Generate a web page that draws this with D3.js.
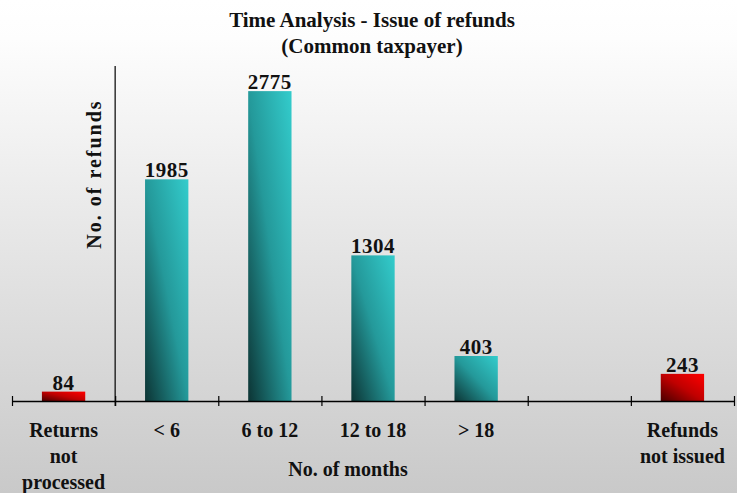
<!DOCTYPE html>
<html>
<head>
<meta charset="utf-8">
<script src="https://cdn.jsdelivr.net/npm/d3@7"></script>
<style>
  html, body { margin: 0; padding: 0; background: #fff; }
  svg { display: block; }
  text { font-family: "Liberation Serif", "Times New Roman", serif; font-weight: bold; fill: #111; }
</style>
</head>
<body>
<svg id="chart" width="737" height="493"></svg>
<script>
// Refund timing categories (multi-line labels split on "\n")
const categories = ["Returns\nnot\nprocessed", "< 6", "6 to 12", "12 to 18", "> 18", "", "Refunds\nnot issued"];
// Number of refunds per category (null = no bar)
const values = [84, 1985, 2775, 1304, 403, null, 243];
// Which bars are highlighted as outliers (red) vs. monthly buckets (teal)
const kinds = ["red", "teal", "teal", "teal", "teal", null, "red"];
const titleLines = ["Time Analysis - Issue of refunds", "(Common taxpayer)"];
const xTitle = "No. of months";
const yTitle = "No. of refunds";

const W = 737, H = 493;
const svg = d3.select("#chart");
const defs = svg.append("defs");

// Background: white fading to light grey at the bottom
const bg = defs.append("linearGradient").attr("id", "bg").attr("x1", 0).attr("y1", 0).attr("x2", 0).attr("y2", 1);
bg.append("stop").attr("offset", "0%").attr("stop-color", "#ffffff");
bg.append("stop").attr("offset", "8%").attr("stop-color", "#fdfdfd");
bg.append("stop").attr("offset", "100%").attr("stop-color", "#c9c9c9");
svg.append("rect").attr("width", W).attr("height", H).attr("fill", "url(#bg)");

// Diagonal bar fills: dark at bottom-left, bright at top-right
function diag(id, c0, c1, c2) {
  const g = defs.append("linearGradient").attr("id", id)
    .attr("x1", 0).attr("y1", 1).attr("x2", 1).attr("y2", 0);
  g.append("stop").attr("offset", "0%").attr("stop-color", c0);
  g.append("stop").attr("offset", "50%").attr("stop-color", c1);
  g.append("stop").attr("offset", "100%").attr("stop-color", c2);
}
diag("teal", "#0c3434", "#24999a", "#33cccc");
diag("red", "#4a0000", "#c00000", "#ff0000");

const plotLeft = 12, plotRight = 734, plotBase = 401, plotTop = 66;
const idx = d3.range(categories.length);
const x = d3.scaleBand().domain(idx).range([plotLeft, plotRight]).padding(0);
const y = d3.scaleLinear().domain([0, 3000]).range([plotBase, plotTop]);
const bw = x.bandwidth() * 0.42;

// Bars
const bars = idx.filter(i => values[i] != null);
svg.append("g").selectAll("rect").data(bars).join("rect")
  .attr("x", i => x(i) + x.bandwidth() / 2 - bw / 2)
  .attr("y", i => y(values[i]))
  .attr("width", bw)
  .attr("height", i => y(0) - y(values[i]))
  .attr("fill", i => `url(#${kinds[i]})`);

// Value labels
svg.append("g").selectAll("text").data(bars).join("text")
  .attr("x", i => x(i) + x.bandwidth() / 2)
  .attr("y", i => y(values[i]) - 2)
  .attr("text-anchor", "middle")
  .style("font-size", "21px")
  .style("letter-spacing", "0.5px")
  .text(i => values[i]);

// Category axis with ticks crossing the baseline at band edges
const edges = d3.scaleLinear().domain([0, categories.length]).range([plotLeft, plotRight]);
const axis = svg.append("g").attr("transform", `translate(0,${plotBase})`)
  .call(d3.axisBottom(edges).tickValues(d3.range(categories.length + 1)).tickSize(5).tickSizeOuter(0).tickFormat(""));
axis.select(".domain").attr("stroke", "#000").attr("stroke-width", 1.5);
axis.selectAll(".tick line").attr("y1", -5).attr("stroke", "#000").attr("stroke-width", 1.2);

// Vertical value axis line between the first and second category
svg.append("line")
  .attr("x1", edges(1)).attr("x2", edges(1))
  .attr("y1", plotTop).attr("y2", plotBase + 5)
  .attr("stroke", "#000").attr("stroke-width", 1.2);

// Category labels
const lab = svg.append("g").selectAll("text").data(idx).join("text")
  .attr("text-anchor", "middle")
  .style("font-size", "20px");
lab.each(function (i) {
  const lines = categories[i].split("\n");
  d3.select(this).selectAll("tspan").data(lines).join("tspan")
    .attr("x", x(i) + x.bandwidth() / 2)
    .attr("y", (d, k) => 437 + k * 26)
    .text(d => d);
});

// Axis titles
svg.append("text").attr("x", 348).attr("y", 476).attr("text-anchor", "middle")
  .style("font-size", "20px").text(xTitle);
svg.append("text").attr("transform", "translate(101,174) rotate(-90)").attr("text-anchor", "middle")
  .style("font-size", "20px").style("letter-spacing", "2px").text(yTitle);

// Chart title
svg.append("g").selectAll("text").data(titleLines).join("text")
  .attr("x", 372).attr("y", (d, k) => 27 + k * 26)
  .attr("text-anchor", "middle")
  .style("font-size", "21px")
  .text(d => d);
</script>
</body>
</html>
